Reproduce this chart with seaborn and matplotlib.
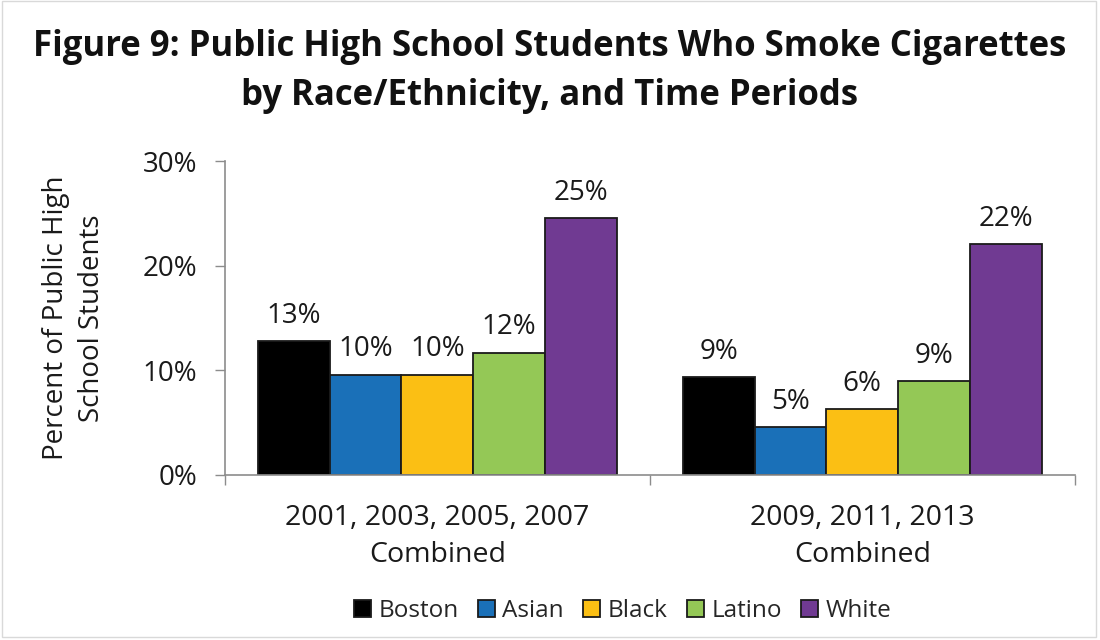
import matplotlib
matplotlib.use("Agg")
import matplotlib.pyplot as plt
import seaborn as sns
import pandas as pd
from matplotlib.ticker import FuncFormatter, FixedLocator
from matplotlib.patches import Rectangle

# Survey periods (x categories) and race/ethnicity groups (hue)
periods = ["2001, 2003, 2005, 2007\nCombined", "2009, 2011, 2013\nCombined"]
groups = ["Boston", "Asian", "Black", "Latino", "White"]

# Percent of students who smoke, one list per group (period order as above)
boston = [12.8, 9.4]
asian = [9.6, 4.6]
black = [9.6, 6.3]
latino = [11.7, 9.0]
white = [24.6, 22.1]

colors = ["#000000", "#1a70b8", "#fbbf14", "#94c856", "#703a92"]

series = [boston, asian, black, latino, white]
df = pd.DataFrame(
    [{"period": p, "group": g, "pct": vals[i]}
     for g, vals in zip(groups, series) for i, p in enumerate(periods)]
)

sns.set_theme(style="white")
plt.rcParams["font.family"] = ["Open Sans", "DejaVu Sans"]

TXT = "#1a1a1a"
fig = plt.figure(figsize=(11, 6.4), dpi=100)
ax = fig.add_axes([0.2045, 0.258, 0.7725, 0.490])

sns.barplot(
    data=df, x="period", y="pct", hue="group", order=periods, hue_order=groups,
    palette=colors, width=0.845, edgecolor="#1a1a1a", linewidth=1.3,
    saturation=1, errorbar=None, ax=ax,
)

for cont in ax.containers:
    ax.bar_label(cont, labels=[f"{v:.0f}%" for v in cont.datavalues],
                 padding=8, fontsize=20, color=TXT)

ax.set_ylim(0, 30)
ax.set_yticks([0, 10, 20, 30])
ax.yaxis.set_major_formatter(FuncFormatter(lambda v, _: f"{v:.0f}%"))
ax.set_xlim(-0.5, 1.5)

ax.set_xlabel("")
ax.set_ylabel("Percent of Public High\nSchool Students", fontsize=20,
              color=TXT, labelpad=26, linespacing=1.4)

ax.tick_params(axis="y", labelsize=20, labelcolor=TXT, left=True,
               length=7, width=1, color="#8c8c8c", direction="out", pad=13)
ax.tick_params(axis="x", labelsize=20.5, labelcolor=TXT, bottom=False,
               pad=15)
for lbl in ax.get_xticklabels():
    lbl.set_linespacing(1.42)

# category boundary marks on the x axis
ax.xaxis.set_minor_locator(FixedLocator([-0.5, 0.5, 1.5]))
ax.tick_params(axis="x", which="minor", bottom=True, length=7, width=1,
               color="#8c8c8c", direction="out")

for side in ["top", "right"]:
    ax.spines[side].set_visible(False)
for side in ["left", "bottom"]:
    ax.spines[side].set_color("#8c8c8c")
    ax.spines[side].set_linewidth(1.2)

handles, labels = ax.get_legend_handles_labels()
ax.legend_.remove()
fig.legend(handles, labels, loc="center", bbox_to_anchor=(0.566, 0.046), ncol=5,
           frameon=False, fontsize=17.5, handlelength=0.7, handleheight=0.7,
           handletextpad=0.3, columnspacing=0.8)

fig.text(0.5, 0.927, "Figure 9: Public High School Students Who Smoke Cigarettes",
         ha="center", va="center", fontsize=25, fontweight="bold", color="#111111")
fig.text(0.5, 0.85, "by Race/Ethnicity, and Time Periods",
         ha="center", va="center", fontsize=25, fontweight="bold", color="#111111")

fig.patches.append(Rectangle((0.002, 0.004), 0.994, 0.994, transform=fig.transFigure,
                             fill=False, edgecolor="#d9d9d9", linewidth=1))

fig.savefig("out.png", dpi=100, facecolor="white")
